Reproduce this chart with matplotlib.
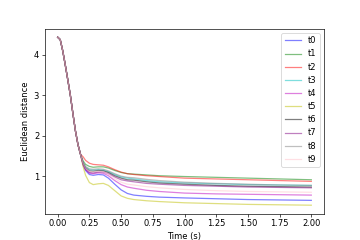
import matplotlib
matplotlib.use("Agg")
import matplotlib.pyplot as plt

time_s = [0.00, 0.02, 0.04, 0.06, 0.08, 0.10, 0.12, 0.14, 0.16, 0.18,
          0.20, 0.22, 0.25, 0.28, 0.32, 0.36, 0.40, 0.45, 0.50, 0.55,
          0.60, 0.70, 0.80, 1.00, 1.25, 1.50, 1.75, 2.00]

early = [4.44, 4.38, 4.10, 3.75, 3.38, 3.00, 2.55, 2.12, 1.78, 1.54]

t0 = early + [1.28, 1.14, 1.04, 1.02, 1.04, 1.03, 0.95, 0.80, 0.66, 0.57, 0.53, 0.50, 0.48, 0.46, 0.44, 0.42, 0.41, 0.40]
t1 = early + [1.38, 1.29, 1.24, 1.22, 1.23, 1.23, 1.20, 1.14, 1.09, 1.06, 1.05, 1.03, 1.01, 0.99, 0.97, 0.95, 0.93, 0.91]
t2 = early + [1.48, 1.39, 1.32, 1.29, 1.28, 1.27, 1.23, 1.16, 1.10, 1.06, 1.04, 1.01, 0.99, 0.95, 0.93, 0.91, 0.89, 0.87]
t3 = early + [1.33, 1.22, 1.16, 1.15, 1.16, 1.15, 1.11, 1.04, 0.98, 0.95, 0.93, 0.89, 0.86, 0.83, 0.81, 0.79, 0.78, 0.77]
t4 = early + [1.29, 1.16, 1.07, 1.06, 1.08, 1.07, 1.01, 0.89, 0.79, 0.73, 0.70, 0.65, 0.62, 0.58, 0.56, 0.55, 0.54, 0.53]
t5 = early + [1.24, 1.02, 0.84, 0.79, 0.81, 0.82, 0.77, 0.64, 0.51, 0.45, 0.42, 0.39, 0.37, 0.34, 0.32, 0.30, 0.29, 0.28]
t6 = early + [1.32, 1.20, 1.13, 1.12, 1.14, 1.13, 1.09, 1.01, 0.95, 0.91, 0.90, 0.86, 0.83, 0.80, 0.77, 0.75, 0.74, 0.73]
t7 = early + [1.30, 1.17, 1.09, 1.08, 1.10, 1.10, 1.06, 0.98, 0.91, 0.88, 0.86, 0.82, 0.80, 0.77, 0.75, 0.73, 0.72, 0.71]
t8 = early + [1.34, 1.24, 1.18, 1.17, 1.18, 1.17, 1.13, 1.06, 1.00, 0.97, 0.96, 0.92, 0.89, 0.85, 0.82, 0.80, 0.78, 0.77]
t9 = early + [1.31, 1.19, 1.12, 1.11, 1.12, 1.11, 1.05, 0.94, 0.85, 0.80, 0.78, 0.74, 0.71, 0.67, 0.64, 0.62, 0.61, 0.60]

labels = ["t0", "t1", "t2", "t3", "t4", "t5", "t6", "t7", "t8", "t9"]
series = [t0, t1, t2, t3, t4, t5, t6, t7, t8, t9]
colors = ["b", "g", "r", "c", "m", "y", "k", "purple", "gray", "pink"]

fig, ax = plt.subplots(figsize=(6, 4), dpi=60)
for lab, ys, col in zip(labels, series, colors):
    ax.plot(time_s, ys, color=col, alpha=0.5, label=lab)
ax.set_xlabel("Time (s)")
ax.set_ylabel("Euclidean distance")
ax.legend(loc="upper right")
fig.savefig("out.png", dpi=60)
